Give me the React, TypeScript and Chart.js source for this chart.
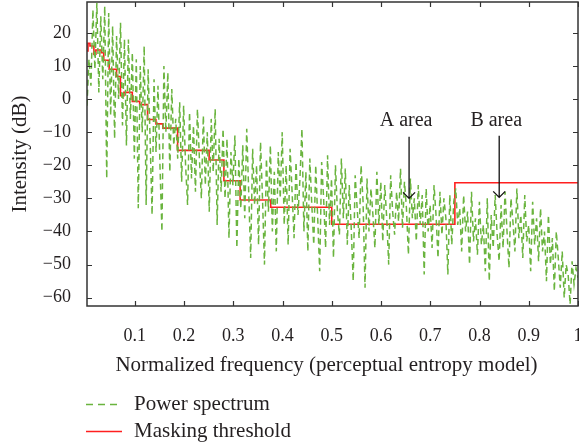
import React, { useEffect, useRef } from "react";
import { Chart, registerables } from "chart.js";

Chart.register(...registerables);

const X_MIN = 0.003;
const X_MAX = 1.0;
const Y_MIN = -62.5;
const Y_MAX = 29.3;

const X_TICKS = [0.1, 0.2, 0.3, 0.4, 0.5, 0.6, 0.7, 0.8, 0.9, 1];
const X_TICK_LABELS = ["0.1", "0.2", "0.3", "0.4", "0.5", "0.6", "0.7", "0.8", "0.9", "1"];
const Y_TICKS = [-60, -50, -40, -30, -20, -10, 0, 10, 20];
const Y_TICK_LABELS = ["\u221260", "\u221250", "\u221240", "\u221230", "\u221220", "\u221210", "0", "10", "20"];

// Masking threshold (step starts, dB)
const THRESH_X = [0.003, 0.005, 0.009, 0.017, 0.021, 0.032, 0.037, 0.048, 0.063, 0.071, 0.078, 0.095, 0.11, 0.126, 0.143, 0.157, 0.187, 0.251, 0.281, 0.314, 0.376, 0.5, 0.75, 1.0];
const THRESH_DB = [14.5, 16.8, 16.0, 13.5, 14.8, 14.0, 11.7, 9.0, 6.8, 1.0, 2.0, -0.7, -1.7, -6.2, -7.5, -8.8, -15.5, -18.4, -24.7, -30.5, -32.7, -37.8, -25.3, -25.3];

// Power spectrum (dB), evenly spaced bins from X_MIN to X_MAX
const POWER_DB = [
  -2, 12, 4, 27, 9, 29, 2, 25, 6, 28,
  -24, 26, -5, 22, -12, 19, 0, 23, -8, 18,
  -14, 18, -6, 14, -18, 12, -33, 10, -10, 16,
  -32, 9, -12, -35, 6, -16, 4, -20, -40, 10,
  -10, 8, -22, 3, -14, -6, -18, -1, -25, -2,
  -20, -32, -4, -24, -8, -28, -3, -18, -30, -5,
  -26, -10, -34, -6, -22, -3, -38, -12, -28, -9,
  -30, -12, -42, -16, -26, -11, -45, -18, -33, -14,
  -36, -9, -28, -48, -15, -32, -20, -44, -13, -30,
  -50, -18, -34, -14, -40, -22, -46, -16, -30, -10,
  -38, -20, -44, -15, -28, -42, -19, -35, -24, -9,
  -40, -22, -46, -18, -32, -44, -20, -36, -52, -19,
  -30, -45, -17, -38, -24, -48, -20, -34, -41, -18,
  -36, -21, -44, -26, -39, -55, -23, -33, -42, -20,
  -31, -57, -24, -40, -27, -35, -45, -22, -38, -25,
  -43, -26, -36, -50, -23, -34, -41, -28, -37, -21,
  -39, -25, -33, -47, -24, -36, -30, -43, -26, -38,
  -29, -53, -27, -40, -32, -45, -26, -35, -48, -28,
  -41, -30, -36, -53, -29, -44, -31, -27, -38, -33,
  -46, -29, -40, -34, -50, -28, -43, -36, -47, -31,
  -44, -38, -52, -30, -55, -35, -45, -29, -41, -49,
  -32, -45, -28, -40, -51, -30, -37, -46, -27, -42,
  -35, -48, -29, -43, -38, -52, -31, -44, -36, -49,
  -33, -46, -40, -55, -35, -50, -42, -58, -40, -48,
  -57, -46, -60, -50, -53, -62, -49, -56, -51, -54,
];

const SERIES_NAMES = ["Power spectrum", "Masking threshold"];
const AXIS_X_TITLE = "Normalized frequency (perceptual entropy model)";
const AXIS_Y_TITLE = "Intensity (dB)";
const ANNOTATIONS = [
  { label: "A area", x: 0.657, textY: -6.6, fromY: -11.4, toY: -30.0 },
  { label: "B area", x: 0.84, textY: -6.6, fromY: -11.1, toY: -29.7 },
];

const FONT = "'Liberation Serif', 'Times New Roman', serif";
const TEXT = "#231f20";
const GREEN = "#6ab43e";
const RED = "#ff1f1f";

export default function App() {
  const ref = useRef<HTMLCanvasElement | null>(null);

  useEffect(() => {
    if (!ref.current) return;
    const n = POWER_DB.length;
    const powerData = POWER_DB.map((v, i) => ({ x: X_MIN + (i * (X_MAX - X_MIN)) / (n - 1), y: v }));
    const threshData = THRESH_X.map((x, i) => ({ x, y: THRESH_DB[i] }));

    const decor = {
      id: "decor",
      afterDatasetsDraw(chart: any) {
        const ctx = chart.ctx;
        const { left, right, top, bottom } = chart.chartArea;
        const xs = chart.scales.x;
        const ys = chart.scales.y;
        ctx.save();
        // box
        ctx.strokeStyle = "#333333";
        ctx.lineWidth = 1.5;
        ctx.setLineDash([]);
        ctx.strokeRect(left, top, right - left, bottom - top);
        // inward ticks
        ctx.lineWidth = 1.2;
        ctx.beginPath();
        X_TICKS.forEach((v) => {
          const px = Math.round(xs.getPixelForValue(v)) + 0.5;
          ctx.moveTo(px, bottom);
          ctx.lineTo(px, bottom - 5);
          ctx.moveTo(px, top);
          ctx.lineTo(px, top + 5);
        });
        Y_TICKS.forEach((v) => {
          const py = Math.round(ys.getPixelForValue(v)) + 0.5;
          ctx.moveTo(left, py);
          ctx.lineTo(left + 5, py);
          ctx.moveTo(right, py);
          ctx.lineTo(right - 5, py);
        });
        ctx.stroke();

        // axis titles
        ctx.fillStyle = TEXT;
        ctx.font = `21px ${FONT}`;
        ctx.textAlign = "center";
        ctx.textBaseline = "middle";
        ctx.fillText(AXIS_X_TITLE, (left + right) / 2 - 6, 365);
        ctx.save();
        ctx.translate(20, 154);
        ctx.rotate(-Math.PI / 2);
        ctx.fillText(AXIS_Y_TITLE, 0, 0);
        ctx.restore();

        // annotations
        ctx.font = `20px ${FONT}`;
        ctx.strokeStyle = "#111111";
        ctx.lineWidth = 1.3;
        ANNOTATIONS.forEach((a) => {
          const px = xs.getPixelForValue(a.x);
          const ty = ys.getPixelForValue(a.textY);
          ctx.fillText(a.label, px - 3, ty);
          const y0 = ys.getPixelForValue(a.fromY);
          const y1 = ys.getPixelForValue(a.toY);
          ctx.beginPath();
          ctx.moveTo(px, y0);
          ctx.lineTo(px, y1);
          ctx.moveTo(px - 6, y1 - 6);
          ctx.lineTo(px, y1);
          ctx.lineTo(px + 6, y1 - 6);
          ctx.stroke();
        });

        // legend
        ctx.font = `21px ${FONT}`;
        ctx.textAlign = "left";
        ctx.lineWidth = 1.5;
        ctx.strokeStyle = GREEN;
        ctx.setLineDash([7, 5]);
        ctx.beginPath();
        ctx.moveTo(86, 404.5);
        ctx.lineTo(122, 404.5);
        ctx.stroke();
        ctx.setLineDash([]);
        ctx.strokeStyle = RED;
        ctx.beginPath();
        ctx.moveTo(86, 431.5);
        ctx.lineTo(122, 431.5);
        ctx.stroke();
        ctx.fillStyle = TEXT;
        ctx.fillText(SERIES_NAMES[0], 134, 404);
        ctx.fillText(SERIES_NAMES[1], 134, 431);
        ctx.restore();
      },
    };

    const chart = new Chart(ref.current, {
      type: "line",
      data: {
        datasets: [
          {
            label: SERIES_NAMES[0],
            data: powerData,
            borderColor: GREEN,
            borderWidth: 1.5,
            borderDash: [6, 4],
            pointRadius: 0,
            fill: false,
            tension: 0,
          },
          {
            label: SERIES_NAMES[1],
            data: threshData,
            borderColor: RED,
            borderWidth: 1.6,
            pointRadius: 0,
            fill: false,
            stepped: "before",
          },
        ],
      },
      options: {
        animation: false,
        responsive: false,
        maintainAspectRatio: false,
        layout: { padding: { left: 0, right: 1, top: 2, bottom: 0 } },
        plugins: { legend: { display: false }, tooltip: { enabled: false } },
        scales: {
          x: {
            type: "linear",
            min: X_MIN,
            max: X_MAX,
            grid: { display: false },
            border: { display: false },
            afterBuildTicks: (s: any) => {
              s.ticks = X_TICKS.map((v) => ({ value: v }));
            },
            afterFit: (s: any) => {
              s.height = 140;
              s.paddingLeft = 0;
              s.paddingRight = 0;
            },
            ticks: {
              autoSkip: false,
              maxRotation: 0,
              padding: 11,
              color: TEXT,
              font: { family: FONT, size: 18 },
              callback: (v: any) => {
                const i = X_TICKS.findIndex((t) => Math.abs(t - v) < 1e-9);
                return i >= 0 ? X_TICK_LABELS[i] : "";
              },
            },
          },
          y: {
            type: "linear",
            min: Y_MIN,
            max: Y_MAX,
            grid: { display: false },
            border: { display: false },
            afterBuildTicks: (s: any) => {
              s.ticks = Y_TICKS.map((v) => ({ value: v }));
            },
            afterFit: (s: any) => {
              s.width = 87;
              s.paddingTop = 0;
              s.paddingBottom = 0;
            },
            ticks: {
              autoSkip: false,
              padding: 8,
              color: TEXT,
              font: { family: FONT, size: 18 },
              callback: (v: any) => {
                const i = Y_TICKS.findIndex((t) => Math.abs(t - v) < 1e-9);
                return i >= 0 ? Y_TICK_LABELS[i] : "";
              },
            },
          },
        },
      },
      plugins: [decor],
    } as any);
    return () => chart.destroy();
  }, []);

  return (
    <div style={{ position: "fixed", left: 0, top: 0, width: 579, height: 446, background: "#fff" }}>
      <canvas ref={ref} width={579} height={446} style={{ width: 579, height: 446, display: "block" }} />
    </div>
  );
}
